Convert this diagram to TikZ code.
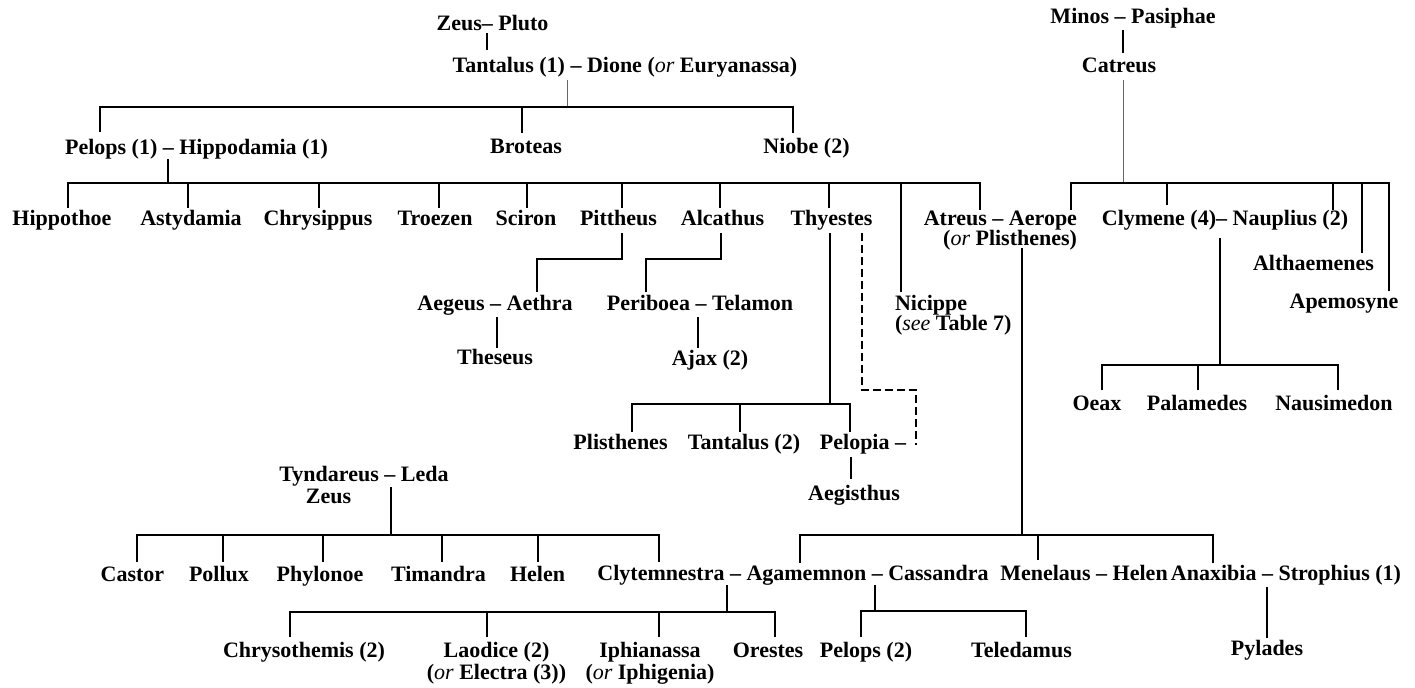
\documentclass[tikz,border=0pt]{standalone}
\usepackage{fontspec}
\setmainfont{Liberation Serif}
\newcommand\tworight[2]{\vtop{\baselineskip=10pt\lineskiplimit=-20pt\lineskip=0pt\halign{\hfil##\cr#1\cr#2\cr}}}
\newcommand\twoleft[2]{\vtop{\baselineskip=10pt\lineskiplimit=-20pt\lineskip=0pt\halign{##\hfil\cr#1\cr#2\cr}}}
\newcommand\twocenter[2]{\vtop{\baselineskip=11pt\lineskiplimit=-20pt\lineskip=0pt\halign{\hfil##\hfil\cr#1\cr#2\cr}}}
\newcommand\alt[1]{{\mdseries\itshape #1}}
\begin{document}
\begin{tikzpicture}[x=0.5pt,y=-0.5pt,
  every node/.style={inner sep=0pt, outer sep=0pt, font=\fontsize{11}{13}\selectfont\bfseries, anchor=base},
  ln/.style={line width=0.75pt},
  faint/.style={line width=0.5pt, black!60},
  dsh/.style={line width=0.75pt, dash pattern=on 4pt off 2pt}]
\useasboundingbox (0,0) rectangle (1415,687);
% ---------- nodes ----------
\node (zeus) at (492.5,30) {Zeus– Pluto};
\node (tantalus) at (625,72) {Tantalus (1) – Dione (\alt{or} Euryanassa)};
\node (minos) at (1133,23) {Minos – Pasiphae};
\node (catreus) at (1119,72) {Catreus};
\node (pelops) at (196.5,154) {Pelops (1) – Hippodamia (1)};
\node (broteas) at (526,153) {Broteas};
\node (niobe) at (806.5,153) {Niobe (2)};
\node (hippothoe) at (62,225) {Hippothoe};
\node (astydamia) at (191,225) {Astydamia};
\node (chrysippus) at (318,225) {Chrysippus};
\node (troezen) at (435,225) {Troezen};
\node (sciron) at (526,225) {Sciron};
\node (pittheus) at (618.5,225) {Pittheus};
\node (alcathus) at (722.5,225) {Alcathus};
\node (thyestes) at (831.5,225) {Thyestes};
\node[anchor=base east] (atreus) at (1077,225) {\tworight{Atreus – Aerope}{(\alt{or} Plisthenes)}};
\node (clymene) at (1225,225) {Clymene (4)– Nauplius (2)};
\node (althaemenes) at (1313.5,270) {Althaemenes};
\node (apemosyne) at (1344,308) {Apemosyne};
\node (aegeus) at (495,310) {Aegeus – Aethra};
\node (periboea) at (700,310) {Periboea – Telamon};
\node[anchor=base west] (nicippe) at (895,310) {\twoleft{Nicippe}{(\alt{see} Table 7)}};
\node (theseus) at (495,364) {Theseus};
\node (ajax) at (710,365) {Ajax (2)};
\node (oeax) at (1097,410) {Oeax};
\node (palamedes) at (1197,410) {Palamedes};
\node (nausimedon) at (1334,410) {Nausimedon};
\node (plisthenes) at (620.5,449) {Plisthenes};
\node (tantalustwo) at (744,449) {Tantalus (2)};
\node (pelopia) at (863,449) {Pelopia –};
\node (aegisthus) at (854,500) {Aegisthus};
\node (tyndareus) at (364,481) {Tyndareus – Leda};
\node (zeustwo) at (328.5,503) {Zeus};
\node (castor) at (132.5,581) {Castor};
\node (pollux) at (219,581) {Pollux};
\node (phylonoe) at (320,581) {Phylonoe};
\node (timandra) at (438.5,581) {Timandra};
\node (helen) at (537.5,581) {Helen};
\node (clyt) at (793,580) {Clytemnestra – Agamemnon – Cassandra};
\node (menelaus) at (1084,580) {Menelaus – Helen};
\node (anaxibia) at (1286,580) {Anaxibia – Strophius (1)};
\node (chrysothemis) at (304,657) {Chrysothemis (2)};
\node (laodice) at (496.5,657) {\twocenter{Laodice (2)}{(\alt{or} Electra (3))}};
\node (iphianassa) at (650,657) {\twocenter{Iphianassa}{(\alt{or} Iphigenia)}};
\node (orestes) at (768,657) {Orestes};
\node (pelopstwo) at (866,657) {Pelops (2)};
\node (teledamus) at (1021.5,657) {Teledamus};
\node (pylades) at (1267,655) {Pylades};
% ---------- connectors ----------
\draw[ln] (487,33) -- (487,50);
\draw[faint] (567,80) -- (567,107);
\draw[ln] (100,132) -- (100,107) -- (793,107) -- (793,133);
\draw[ln] (522,107) -- (522,133);
\draw[ln] (1123,30) -- (1123,53);
\draw[faint] (1123,80) -- (1123,183);
\draw[ln] (1071,210) -- (1071,183) -- (1389,183) -- (1389,291);
\draw[ln] (1167,183) -- (1167,205);
\draw[ln] (1333,183) -- (1333,210);
\draw[ln] (1362,183) -- (1362,253);
\draw[ln] (168,159) -- (168,183);
\draw[ln] (68,208) -- (68,183) -- (980,183) -- (980,210);
\foreach \x in {188,319,439,527,622,720,829} \draw[ln] (\x,183) -- (\x,208);
\draw[ln] (901,183) -- (901,292);
\draw[ln] (622,233) -- (622,259) -- (537,259) -- (537,292);
\draw[ln] (497,317) -- (497,348);
\draw[ln] (721,233) -- (721,259) -- (646,259) -- (646,292);
\draw[ln] (698,317) -- (698,348);
\draw[ln] (830,233) -- (830,404);
\draw[ln] (632,432) -- (632,404) -- (850,404) -- (850,432);
\draw[ln] (740,404) -- (740,432);
\draw[dsh] (862,233) -- (862,390) -- (916,390) -- (916,445);
\draw[ln] (851,457) -- (851,479);
\draw[ln] (1022,248) -- (1022,535);
\draw[ln] (800,563) -- (800,535) -- (1213,535) -- (1213,563);
\draw[ln] (1038,535) -- (1038,560);
\draw[ln] (1220,238) -- (1220,365);
\draw[ln] (1102,390) -- (1102,365) -- (1338,365) -- (1338,390);
\draw[ln] (1198,365) -- (1198,390);
\draw[ln] (391,487) -- (391,535);
\draw[ln] (137,562) -- (137,535) -- (659,535) -- (659,562);
\foreach \x in {223,323,442,538} \draw[ln] (\x,535) -- (\x,562);
\draw[ln] (727,585) -- (727,612);
\draw[ln] (290,637) -- (290,612) -- (775,612) -- (775,637);
\draw[ln] (487,612) -- (487,637);
\draw[ln] (659,612) -- (659,637);
\draw[ln] (875,585) -- (875,611);
\draw[ln] (861,637) -- (861,611) -- (1026,611) -- (1026,637);
\draw[ln] (1267,587) -- (1267,638);
\end{tikzpicture}
\end{document}
